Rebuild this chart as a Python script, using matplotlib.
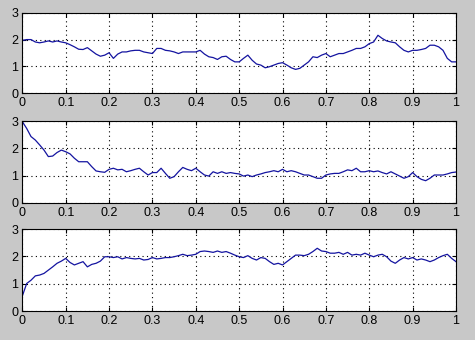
import numpy as np
import matplotlib
matplotlib.use("Agg")
import matplotlib.pyplot as plt

x = np.linspace(0, 1, 101)

series1 = [1.97, 2.00, 2.00, 1.91, 1.88, 1.91, 1.95, 1.91, 1.95, 1.91,
           1.88, 1.81, 1.73, 1.64, 1.63, 1.70, 1.58, 1.46, 1.38, 1.42,
           1.51, 1.30, 1.46, 1.54, 1.54, 1.58, 1.60, 1.60, 1.54, 1.51,
           1.48, 1.67, 1.67, 1.60, 1.58, 1.54, 1.48, 1.54, 1.54, 1.54,
           1.54, 1.60, 1.46, 1.36, 1.33, 1.26, 1.36, 1.38, 1.26, 1.17,
           1.17, 1.30, 1.42, 1.23, 1.09, 1.05, 0.95, 0.99, 1.05, 1.11,
           1.14, 1.05, 0.95, 0.89, 0.93, 1.05, 1.17, 1.36, 1.33, 1.42,
           1.48, 1.36, 1.42, 1.48, 1.48, 1.54, 1.60, 1.67, 1.67, 1.73,
           1.85, 1.91, 2.16, 2.04, 1.95, 1.91, 1.88, 1.73, 1.60, 1.54,
           1.60, 1.60, 1.63, 1.67, 1.79, 1.79, 1.73, 1.60, 1.30, 1.17,
           1.17]

series2 = [2.99, 2.74, 2.44, 2.31, 2.13, 1.94, 1.70, 1.72, 1.85, 1.94,
           1.88, 1.80, 1.64, 1.51, 1.51, 1.51, 1.33, 1.17, 1.14, 1.12,
           1.23, 1.27, 1.21, 1.23, 1.14, 1.18, 1.23, 1.27, 1.14, 1.02,
           1.11, 1.11, 1.27, 1.08, 0.90, 0.96, 1.14, 1.30, 1.23, 1.18,
           1.27, 1.14, 1.02, 0.98, 1.14, 1.08, 1.14, 1.08, 1.11, 1.08,
           1.06, 0.98, 1.02, 0.96, 1.02, 1.06, 1.11, 1.14, 1.18, 1.14,
           1.23, 1.14, 1.18, 1.14, 1.08, 1.02, 1.02, 0.96, 0.90, 0.90,
           1.02, 1.06, 1.08, 1.08, 1.14, 1.21, 1.18, 1.27, 1.14, 1.14,
           1.18, 1.14, 1.17, 1.11, 1.06, 1.14, 1.06, 0.98, 0.90, 0.96,
           1.11, 0.96, 0.86, 0.81, 0.90, 1.02, 1.02, 1.02, 1.06, 1.11,
           1.13]

series3 = [0.55, 1.01, 1.13, 1.29, 1.32, 1.38, 1.50, 1.62, 1.75, 1.83,
           1.93, 1.78, 1.69, 1.75, 1.81, 1.62, 1.71, 1.75, 1.83, 1.99,
           1.99, 1.96, 1.99, 1.91, 1.96, 1.93, 1.91, 1.93, 1.87, 1.89,
           1.96, 1.91, 1.93, 1.96, 1.96, 1.99, 2.03, 2.08, 2.03, 2.05,
           2.08, 2.18, 2.20, 2.18, 2.15, 2.20, 2.15, 2.18, 2.12, 2.05,
           1.99, 1.96, 2.03, 1.93, 1.87, 1.96, 1.93, 1.81, 1.71, 1.75,
           1.69, 1.81, 1.93, 2.05, 2.05, 2.03, 2.08, 2.18, 2.30, 2.20,
           2.18, 2.12, 2.12, 2.15, 2.08, 2.15, 2.05, 2.08, 2.05, 2.12,
           2.05, 1.99, 2.05, 2.08, 1.99, 1.83, 1.75, 1.87, 1.96, 1.91,
           1.96, 1.87, 1.91, 1.87, 1.81, 1.87, 1.96, 2.03, 2.08, 1.93,
           1.81]

xticks = [0, 0.1, 0.2, 0.3, 0.4, 0.5, 0.6, 0.7, 0.8, 0.9, 1]
xticklabels = ["0", "0.1", "0.2", "0.3", "0.4", "0.5", "0.6", "0.7", "0.8", "0.9", "1"]
yticks = [0, 1, 2, 3]
yticklabels = ["0", "1", "2", "3"]

plt.rcParams['font.family'] = ['Liberation Sans', 'DejaVu Sans']

fig = plt.figure(figsize=(4.75, 3.4), dpi=100, facecolor='#c8c8c8')

boxes = [
    (0.047, 0.7256, 0.913, 0.237),
    (0.047, 0.404, 0.913, 0.239),
    (0.047, 0.085, 0.913, 0.241),
]

for box, ys in zip(boxes, [series1, series2, series3]):
    ax = fig.add_axes(box)
    ax.set_facecolor('white')
    ax.plot(x, ys, color='#1414a0', linewidth=0.9)
    ax.set_xlim(0, 1)
    ax.set_ylim(0, 3)
    ax.set_xticks(xticks)
    ax.set_xticklabels(xticklabels)
    ax.set_yticks(yticks)
    ax.set_yticklabels(yticklabels)
    ax.grid(True, linestyle=(0, (1, 3)), color='black', linewidth=0.8)
    ax.tick_params(direction='in', length=3, labelsize=9, colors='black',
                   top=True, right=True, pad=3)
    for sp in ax.spines.values():
        sp.set_color('black')
        sp.set_linewidth(0.8)

fig.savefig('out.png', dpi=100, facecolor=fig.get_facecolor())
